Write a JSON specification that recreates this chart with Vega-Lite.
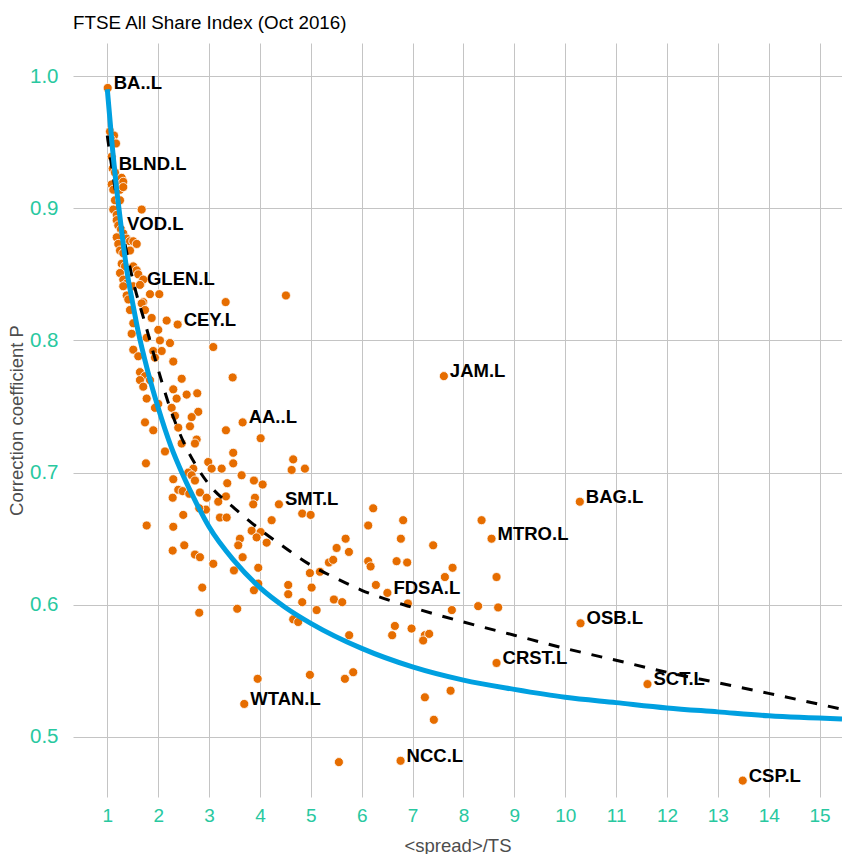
{
  "$schema": "https://vega.github.io/schema/vega-lite/v6.json",
  "width": 769,
  "height": 754,
  "autosize": {"type": "none"},
  "padding": {"left": 73, "top": 43, "right": 0, "bottom": 57},
  "background": "white",
  "title": {"text": "FTSE All Share Index (Oct 2016)", "anchor": "start", "frame": "group", "font": "Liberation Sans", "fontSize": 18.8, "fontWeight": "normal", "color": "#000000", "offset": 10},
  "config": {"view": {"stroke": null}, "font": "Liberation Sans"},
  "datasets": {
    "pts": [
      {"x": 1.008, "y": 0.991, "label": "BA..L"},
      {"x": 1.053, "y": 0.958}, {"x": 1.132, "y": 0.955}, {"x": 1.073, "y": 0.952}, {"x": 1.171, "y": 0.949},
      {"x": 1.086, "y": 0.939},
      {"x": 1.106, "y": 0.930, "label": "BLND.L"},
      {"x": 1.151, "y": 0.927}, {"x": 1.216, "y": 0.921}, {"x": 1.283, "y": 0.923}, {"x": 1.314, "y": 0.920},
      {"x": 1.086, "y": 0.918}, {"x": 1.118, "y": 0.914}, {"x": 1.250, "y": 0.914}, {"x": 1.314, "y": 0.916},
      {"x": 1.151, "y": 0.906}, {"x": 1.250, "y": 0.906}, {"x": 1.118, "y": 0.899}, {"x": 1.185, "y": 0.895},
      {"x": 1.676, "y": 0.899}, {"x": 1.185, "y": 0.891}, {"x": 1.216, "y": 0.887},
      {"x": 1.269, "y": 0.884, "label": "VOD.L"},
      {"x": 1.314, "y": 0.881}, {"x": 1.381, "y": 0.877}, {"x": 1.446, "y": 0.875}, {"x": 1.511, "y": 0.875},
      {"x": 1.578, "y": 0.873}, {"x": 1.185, "y": 0.878}, {"x": 1.216, "y": 0.873}, {"x": 1.250, "y": 0.868},
      {"x": 1.314, "y": 0.866}, {"x": 1.446, "y": 0.868}, {"x": 1.283, "y": 0.858}, {"x": 1.348, "y": 0.856},
      {"x": 1.511, "y": 0.856}, {"x": 1.578, "y": 0.853}, {"x": 1.250, "y": 0.851}, {"x": 1.314, "y": 0.846},
      {"x": 1.381, "y": 0.843}, {"x": 1.609, "y": 0.850},
      {"x": 1.662, "y": 0.843, "label": "GLEN.L"},
      {"x": 1.707, "y": 0.846}, {"x": 1.314, "y": 0.841}, {"x": 1.511, "y": 0.841}, {"x": 1.642, "y": 0.842},
      {"x": 1.381, "y": 0.834}, {"x": 1.839, "y": 0.835}, {"x": 2.022, "y": 0.835}, {"x": 1.707, "y": 0.829},
      {"x": 1.413, "y": 0.831}, {"x": 1.676, "y": 0.828}, {"x": 3.326, "y": 0.829}, {"x": 4.511, "y": 0.834},
      {"x": 1.741, "y": 0.823}, {"x": 1.446, "y": 0.823}, {"x": 1.872, "y": 0.817}, {"x": 2.167, "y": 0.815},
      {"x": 2.383, "y": 0.812, "label": "CEY.L"},
      {"x": 1.511, "y": 0.813}, {"x": 2.002, "y": 0.808}, {"x": 1.479, "y": 0.805}, {"x": 1.774, "y": 0.802},
      {"x": 2.035, "y": 0.800}, {"x": 2.232, "y": 0.798}, {"x": 3.083, "y": 0.795}, {"x": 1.511, "y": 0.793},
      {"x": 1.904, "y": 0.792}, {"x": 2.069, "y": 0.792}, {"x": 1.609, "y": 0.788}, {"x": 2.297, "y": 0.784},
      {"x": 1.937, "y": 0.787}, {"x": 1.642, "y": 0.776}, {"x": 1.741, "y": 0.773}, {"x": 2.462, "y": 0.771},
      {"x": 3.464, "y": 0.772},
      {"x": 7.615, "y": 0.773, "label": "JAM.L"},
      {"x": 1.642, "y": 0.770}, {"x": 1.839, "y": 0.770}, {"x": 1.707, "y": 0.765}, {"x": 2.297, "y": 0.763},
      {"x": 2.560, "y": 0.759}, {"x": 2.768, "y": 0.760}, {"x": 1.774, "y": 0.756}, {"x": 2.363, "y": 0.756},
      {"x": 2.002, "y": 0.752}, {"x": 2.265, "y": 0.749}, {"x": 1.937, "y": 0.749}, {"x": 2.788, "y": 0.746},
      {"x": 2.330, "y": 0.743}, {"x": 2.658, "y": 0.742}, {"x": 1.741, "y": 0.738},
      {"x": 3.660, "y": 0.738, "label": "AA..L"},
      {"x": 2.395, "y": 0.734}, {"x": 1.904, "y": 0.732}, {"x": 2.625, "y": 0.735}, {"x": 3.332, "y": 0.732},
      {"x": 4.014, "y": 0.726}, {"x": 2.756, "y": 0.725}, {"x": 2.723, "y": 0.722}, {"x": 2.462, "y": 0.722},
      {"x": 2.134, "y": 0.716}, {"x": 3.475, "y": 0.715}, {"x": 3.475, "y": 0.707}, {"x": 2.984, "y": 0.708},
      {"x": 1.760, "y": 0.707}, {"x": 3.051, "y": 0.703}, {"x": 3.248, "y": 0.703}, {"x": 4.654, "y": 0.710},
      {"x": 4.623, "y": 0.702}, {"x": 4.884, "y": 0.703}, {"x": 2.690, "y": 0.703}, {"x": 2.591, "y": 0.700},
      {"x": 3.640, "y": 0.698}, {"x": 2.297, "y": 0.695}, {"x": 2.658, "y": 0.698}, {"x": 2.723, "y": 0.694},
      {"x": 3.882, "y": 0.694}, {"x": 4.053, "y": 0.691}, {"x": 3.358, "y": 0.692}, {"x": 2.395, "y": 0.687},
      {"x": 2.481, "y": 0.686}, {"x": 2.821, "y": 0.685}, {"x": 2.611, "y": 0.684}, {"x": 2.285, "y": 0.681},
      {"x": 2.953, "y": 0.681}, {"x": 3.332, "y": 0.682}, {"x": 3.181, "y": 0.678}, {"x": 3.902, "y": 0.681},
      {"x": 3.868, "y": 0.676},
      {"x": 4.373, "y": 0.676, "label": "SMT.L"},
      {"x": 2.939, "y": 0.672}, {"x": 2.807, "y": 0.673}, {"x": 3.214, "y": 0.666}, {"x": 3.346, "y": 0.666},
      {"x": 2.493, "y": 0.668}, {"x": 4.230, "y": 0.664}, {"x": 4.831, "y": 0.669}, {"x": 4.996, "y": 0.668},
      {"x": 1.774, "y": 0.660}, {"x": 2.297, "y": 0.659}, {"x": 3.837, "y": 0.656}, {"x": 4.014, "y": 0.655},
      {"x": 3.935, "y": 0.651}, {"x": 4.132, "y": 0.647}, {"x": 3.607, "y": 0.650}, {"x": 3.574, "y": 0.645},
      {"x": 2.513, "y": 0.645}, {"x": 2.285, "y": 0.641}, {"x": 2.723, "y": 0.638}, {"x": 2.821, "y": 0.636},
      {"x": 3.660, "y": 0.636}, {"x": 3.083, "y": 0.631}, {"x": 3.489, "y": 0.626}, {"x": 3.967, "y": 0.628},
      {"x": 4.556, "y": 0.615}, {"x": 3.967, "y": 0.616}, {"x": 3.882, "y": 0.611}, {"x": 2.866, "y": 0.613},
      {"x": 4.556, "y": 0.608}, {"x": 2.807, "y": 0.594}, {"x": 3.554, "y": 0.597},
      {"x": 6.226, "y": 0.673}, {"x": 6.128, "y": 0.660}, {"x": 6.815, "y": 0.664}, {"x": 6.770, "y": 0.650},
      {"x": 6.686, "y": 0.633}, {"x": 6.894, "y": 0.632}, {"x": 6.128, "y": 0.633}, {"x": 6.175, "y": 0.629},
      {"x": 5.684, "y": 0.650}, {"x": 5.507, "y": 0.643}, {"x": 5.749, "y": 0.640}, {"x": 5.356, "y": 0.632},
      {"x": 5.440, "y": 0.634}, {"x": 5.179, "y": 0.625}, {"x": 4.982, "y": 0.624}, {"x": 5.016, "y": 0.613},
      {"x": 4.831, "y": 0.602}, {"x": 5.454, "y": 0.604}, {"x": 5.617, "y": 0.602}, {"x": 5.114, "y": 0.596},
      {"x": 6.279, "y": 0.615},
      {"x": 6.505, "y": 0.609, "label": "FDSA.L"},
      {"x": 6.908, "y": 0.601}, {"x": 4.654, "y": 0.589}, {"x": 4.752, "y": 0.587}, {"x": 5.754, "y": 0.577},
      {"x": 6.652, "y": 0.584}, {"x": 6.599, "y": 0.577}, {"x": 6.980, "y": 0.582}, {"x": 7.242, "y": 0.577},
      {"x": 7.208, "y": 0.573}, {"x": 7.326, "y": 0.578}, {"x": 3.955, "y": 0.544}, {"x": 4.982, "y": 0.547},
      {"x": 5.670, "y": 0.544}, {"x": 5.833, "y": 0.549},
      {"x": 3.692, "y": 0.525, "label": "WTAN.L"},
      {"x": 7.242, "y": 0.530},
      {"x": 10.287, "y": 0.678, "label": "BAG.L"},
      {"x": 8.356, "y": 0.664},
      {"x": 8.552, "y": 0.650, "label": "MTRO.L"},
      {"x": 7.405, "y": 0.645}, {"x": 7.786, "y": 0.628}, {"x": 7.635, "y": 0.621}, {"x": 8.650, "y": 0.621},
      {"x": 7.772, "y": 0.596}, {"x": 8.289, "y": 0.599}, {"x": 8.682, "y": 0.598},
      {"x": 10.301, "y": 0.586, "label": "OSB.L"},
      {"x": 8.650, "y": 0.556, "label": "CRST.L"},
      {"x": 7.747, "y": 0.535}, {"x": 7.418, "y": 0.513},
      {"x": 6.764, "y": 0.482, "label": "NCC.L"},
      {"x": 11.617, "y": 0.540, "label": "SCT.L"},
      {"x": 5.552, "y": 0.481},
      {"x": 13.489, "y": 0.467, "label": "CSP.L"}
    ],
    "blue": [
      {"x": 1.0, "y": 0.990}, {"x": 1.1, "y": 0.946}, {"x": 1.2, "y": 0.909}, {"x": 1.3, "y": 0.877},
      {"x": 1.4, "y": 0.849}, {"x": 1.5, "y": 0.828}, {"x": 1.6, "y": 0.808}, {"x": 1.8, "y": 0.776},
      {"x": 2.0, "y": 0.749}, {"x": 2.25, "y": 0.720}, {"x": 2.5, "y": 0.697}, {"x": 2.75, "y": 0.677},
      {"x": 3.0, "y": 0.659}, {"x": 3.5, "y": 0.633}, {"x": 4.0, "y": 0.613}, {"x": 4.5, "y": 0.598},
      {"x": 5.0, "y": 0.586}, {"x": 6.0, "y": 0.567}, {"x": 7.0, "y": 0.553}, {"x": 8.0, "y": 0.543},
      {"x": 9.0, "y": 0.536}, {"x": 10.0, "y": 0.530}, {"x": 11.0, "y": 0.526}, {"x": 12.0, "y": 0.522},
      {"x": 13.0, "y": 0.519}, {"x": 14.0, "y": 0.516}, {"x": 15.44, "y": 0.5136}
    ],
    "dash": [
      {"x": 1.0, "y": 0.955}, {"x": 1.1, "y": 0.928}, {"x": 1.25, "y": 0.893}, {"x": 1.5, "y": 0.846},
      {"x": 1.75, "y": 0.812}, {"x": 2.0, "y": 0.778}, {"x": 2.25, "y": 0.747}, {"x": 2.5, "y": 0.723},
      {"x": 2.75, "y": 0.705}, {"x": 3.0, "y": 0.691}, {"x": 3.5, "y": 0.673}, {"x": 4.0, "y": 0.657},
      {"x": 4.5, "y": 0.643}, {"x": 5.0, "y": 0.630}, {"x": 5.5, "y": 0.620}, {"x": 6.0, "y": 0.611},
      {"x": 7.0, "y": 0.598}, {"x": 8.0, "y": 0.587}, {"x": 9.0, "y": 0.577}, {"x": 10.0, "y": 0.567},
      {"x": 11.0, "y": 0.558}, {"x": 12.0, "y": 0.549}, {"x": 13.0, "y": 0.541}, {"x": 14.0, "y": 0.533},
      {"x": 15.44, "y": 0.521}
    ]
  },
  "encoding": {
    "x": {"field": "x", "type": "quantitative",
      "scale": {"domain": [0.326, 15.44], "nice": false, "zero": false},
      "axis": {"values": [1,2,3,4,5,6,7,8,9,10,11,12,13,14,15], "format": "d", "title": "<spread>/TS",
        "grid": true, "gridColor": "#C4C4C4", "gridWidth": 1, "domain": false, "ticks": false,
        "labelColor": "#28C8A0", "labelFont": "Liberation Sans", "labelFontSize": 19, "labelPadding": 9,
        "titleColor": "#4D4D4D", "titleFont": "Liberation Sans", "titleFontSize": 18.5, "titleFontWeight": "normal", "titlePadding": 11}},
    "y": {"field": "y", "type": "quantitative",
      "scale": {"domain": [0.4546, 1.025], "nice": false, "zero": false},
      "axis": {"values": [0.5, 0.6, 0.7, 0.8, 0.9, 1.0], "format": ".1f", "title": "Correction coefficient P",
        "grid": true, "gridColor": "#C4C4C4", "gridWidth": 1, "domain": false, "ticks": false,
        "labelColor": "#28C8A0", "labelFont": "Liberation Sans", "labelFontSize": 20.5, "labelPadding": 15,
        "titleColor": "#4D4D4D", "titleFont": "Liberation Sans", "titleFontSize": 18.5, "titleFontWeight": "normal", "titlePadding": 3}}
  },
  "layer": [
    {"data": {"name": "pts"}, "mark": {"type": "circle", "size": 82, "color": "#E66D00", "opacity": 1, "stroke": "white", "strokeWidth": 0.8}},
    {"data": {"name": "pts"}, "transform": [{"filter": "datum.label != null"}],
      "mark": {"type": "text", "align": "left", "baseline": "middle", "dx": 6, "dy": -5, "font": "Liberation Sans", "fontSize": 18.5, "fontWeight": "bold", "color": "#000000"},
      "encoding": {"text": {"field": "label"}}},
    {"data": {"name": "dash"}, "mark": {"type": "line", "color": "#000000", "strokeWidth": 3, "strokeDash": [11, 11], "interpolate": "monotone"}},
    {"data": {"name": "blue"}, "mark": {"type": "line", "color": "#00A0E0", "strokeWidth": 5, "interpolate": "monotone"}}
  ]
}
